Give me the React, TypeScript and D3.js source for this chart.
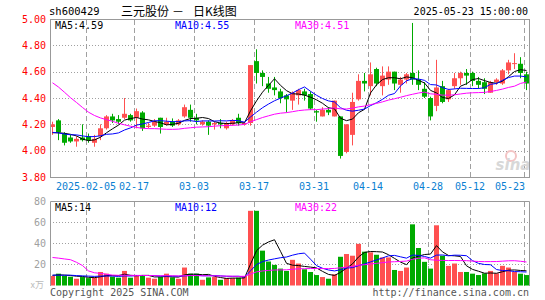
import React, { useEffect, useRef } from 'react';
import * as d3 from 'd3';

// trading days shown on the chart (2025-01-20 .. 2025-05-23)
const dates = [
  '2025-01-20', '2025-01-21', '2025-01-22', '2025-01-23', '2025-01-24', '2025-01-27',
  '2025-02-05', '2025-02-06', '2025-02-07', '2025-02-10', '2025-02-11', '2025-02-12', '2025-02-13', '2025-02-14',
  '2025-02-17', '2025-02-18', '2025-02-19', '2025-02-20', '2025-02-21', '2025-02-24', '2025-02-25', '2025-02-26',
  '2025-02-27', '2025-02-28',
  '2025-03-03', '2025-03-04', '2025-03-05', '2025-03-06', '2025-03-07', '2025-03-10', '2025-03-11', '2025-03-12',
  '2025-03-13', '2025-03-14', '2025-03-17', '2025-03-18', '2025-03-19', '2025-03-20', '2025-03-21', '2025-03-24',
  '2025-03-25', '2025-03-26', '2025-03-27', '2025-03-28', '2025-03-31',
  '2025-04-01', '2025-04-02', '2025-04-03', '2025-04-07', '2025-04-08', '2025-04-09', '2025-04-10', '2025-04-11',
  '2025-04-14', '2025-04-15', '2025-04-16', '2025-04-17', '2025-04-18', '2025-04-21', '2025-04-22', '2025-04-23',
  '2025-04-24', '2025-04-25', '2025-04-28', '2025-04-29', '2025-04-30',
  '2025-05-06', '2025-05-07', '2025-05-08', '2025-05-09', '2025-05-12', '2025-05-13', '2025-05-14', '2025-05-15',
  '2025-05-16', '2025-05-19', '2025-05-20', '2025-05-21', '2025-05-22', '2025-05-23',
];

const open = [
  4.18, 4.23, 4.13, 4.10, 4.07, 4.10, 4.11, 4.06, 4.11, 4.17,
  4.26, 4.24, 4.25, 4.27, 4.25, 4.29, 4.18, 4.19, 4.25, 4.20,
  4.22, 4.20, 4.26, 4.31, 4.25, 4.20, 4.22, 4.20, 4.21, 4.17,
  4.20, 4.25, 4.20, 4.21, 4.68, 4.59, 4.51, 4.48, 4.45, 4.42,
  4.38, 4.42, 4.45, 4.43, 4.30, 4.26, 4.31, 4.26, 4.26, 3.99,
  4.12, 4.39, 4.53, 4.49, 4.62, 4.49, 4.54, 4.60, 4.50, 4.54,
  4.59, 4.54, 4.47, 4.40, 4.34, 4.49, 4.39, 4.49, 4.55, 4.59,
  4.59, 4.53, 4.52, 4.44, 4.52, 4.51, 4.61, 4.66, 4.66, 4.58,
];
const high = [
  4.22, 4.24, 4.14, 4.12, 4.11, 4.20, 4.13, 4.12, 4.20, 4.27,
  4.28, 4.27, 4.40, 4.28, 4.32, 4.30, 4.21, 4.24, 4.25, 4.25,
  4.245, 4.24, 4.35, 4.35, 4.28, 4.23, 4.23, 4.22, 4.24, 4.22,
  4.24, 4.28, 4.22, 4.65, 4.77, 4.61, 4.56, 4.56, 4.47, 4.43,
  4.45, 4.47, 4.47, 4.45, 4.31, 4.33, 4.33, 4.38, 4.26, 4.20,
  4.44, 4.58, 4.59, 4.67, 4.63, 4.64, 4.64, 4.60, 4.56, 4.59,
  4.97, 4.61, 4.52, 4.41, 4.69, 4.53, 4.47, 4.59, 4.60, 4.62,
  4.60, 4.56, 4.55, 4.53, 4.55, 4.62, 4.69, 4.74, 4.71, 4.60,
];
const low = [
  4.12, 4.08, 4.04, 4.06, 4.03, 4.07, 4.06, 4.03, 4.08, 4.16,
  4.21, 4.20, 4.24, 4.22, 4.17, 4.15, 4.17, 4.18, 4.13, 4.19,
  4.18, 4.19, 4.25, 4.22, 4.20, 4.19, 4.12, 4.16, 4.17, 4.16,
  4.19, 4.19, 4.19, 4.19, 4.51, 4.49, 4.44, 4.42, 4.36, 4.29,
  4.31, 4.35, 4.38, 4.31, 4.22, 4.26, 4.27, 4.26, 3.94, 3.98,
  4.04, 4.38, 4.45, 4.42, 4.49, 4.42, 4.50, 4.46, 4.44, 4.51,
  4.50, 4.46, 4.40, 4.23, 4.30, 4.36, 4.37, 4.47, 4.50, 4.50,
  4.49, 4.47, 4.43, 4.44, 4.50, 4.50, 4.58, 4.62, 4.55, 4.46,
];
const close = [
  4.20, 4.14, 4.06, 4.07, 4.09, 4.08, 4.08, 4.09, 4.17, 4.26,
  4.23, 4.22, 4.28, 4.23, 4.30, 4.17, 4.19, 4.22, 4.18, 4.22,
  4.19, 4.23, 4.33, 4.25, 4.23, 4.22, 4.19, 4.21, 4.20, 4.21,
  4.23, 4.21, 4.21, 4.65, 4.59, 4.56, 4.47, 4.46, 4.40, 4.39,
  4.44, 4.46, 4.42, 4.32, 4.29, 4.31, 4.29, 4.38, 3.96, 4.20,
  4.37, 4.53, 4.51, 4.58, 4.51, 4.57, 4.60, 4.51, 4.54, 4.58,
  4.54, 4.50, 4.41, 4.26, 4.48, 4.37, 4.46, 4.55, 4.59, 4.57,
  4.53, 4.50, 4.47, 4.52, 4.54, 4.61, 4.67, 4.665, 4.59, 4.51,
];
// volume, 万手
const volume = [
  9, 11.2, 9, 8.3, 6.4, 8, 7, 7.4, 12.8, 11.2,
  8.3, 7.4, 13.8, 7.4, 9.6, 9.6, 7.4, 6.4, 8, 11.2,
  7.7, 6.4, 17, 11.2, 11.2, 5.4, 7.7, 8, 5.4, 7,
  7, 7.4, 9, 70.7, 70.7, 33, 22.7, 19.5, 16, 13.8,
  24.3, 20.8, 15.4, 12.8, 9.9, 8, 6.4, 10.6, 27.2, 29.8,
  28.2, 39.4, 32, 31.4, 29.1, 26.6, 26.6, 14.7, 13.8, 17,
  57.9, 35.5, 22.4, 16, 57, 28.2, 18.6, 20.8, 12.8, 12.8,
  11.2, 9.9, 11.5, 13.8, 11.5, 18.6, 17, 12.8, 11.2, 9.9,
];

// 29 sessions before the window, only used to seed the moving averages (estimated)
const priorClose = [
  5.12, 5.25, 5.30, 5.18, 5.22, 5.15, 4.85, 4.72, 4.66, 4.60,
  4.68, 4.62, 4.55, 4.58, 4.35, 4.28, 4.22, 4.25, 4.30, 4.20,
  4.18, 4.15, 4.12, 4.10, 4.16, 4.14, 4.08, 4.11, 4.15,
];
const priorVolume = [
  30, 32, 30, 80, 100, 160, 60, 30, 36, 32,
  14, 11, 12, 10, 11, 9, 10, 12, 10, 9,
  11, 10, 8, 10, 11, 9, 10, 10, 10,
];

const priceTicks = [5.0, 4.8, 4.6, 4.4, 4.2, 4.0, 3.8];
const volumeTicks = [80, 60, 40, 20];
const dateTicks = ['2025-02-05', '2025-02-17', '2025-03-03', '2025-03-17', '2025-03-31', '2025-04-14', '2025-04-28', '2025-05-12', '2025-05-23'];
const maPeriods = [5, 10, 30];
const maColors = ['#000000', '#0000ff', '#ff00ff'];
const priceMaLabels = ['MA5:4.59', 'MA10:4.55', 'MA30:4.51'];
const volumeMaLabels = ['MA5:14', 'MA10:12', 'MA30:22'];

const UP = '#ff5050';
const DOWN = '#00aa00';
const MONO = '"DejaVu Sans Mono", monospace';

function movingAverage(prior: number[], values: number[], n: number) {
  const all = prior.concat(values);
  const off = prior.length;
  return values.map((_, i) => d3.mean(all.slice(off + i - n + 1, off + i + 1)) as number);
}

export default function App() {
  const svgRef = useRef<SVGSVGElement>(null);

  useEffect(() => {
    if (!svgRef.current) return;
    const svg = d3.select(svgRef.current);
    svg.selectAll('*').remove();

    const left = 50, right = 529;
    const x = d3.scaleLinear().domain([0, 80]).range([50, 530]);
    const y = d3.scaleLinear().domain([3.8, 5.0]).range([177, 19]);
    const yv = d3.scaleLinear().domain([0, 80]).range([285.5, 201]);
    const idx = dates.map((_, i) => i);
    const cx = (i: number) => x(i) + 2.5;

    svg.append('rect').attr('width', 545).attr('height', 300).attr('fill', '#fff');

    // header
    svg.append('text').attr('x', 49).attr('y', 15).attr('font-family', MONO).attr('font-size', 10.5)
      .attr('fill', '#000').text('sh600429');
    const title = svg.append('text').attr('y', 15.5).attr('font-family', '"Noto Sans CJK SC", sans-serif')
      .attr('font-size', 12).attr('fill', '#000');
    title.append('tspan').attr('x', 121).text('三元股份');
    title.append('tspan').attr('x', 172).text('－');
    title.append('tspan').attr('x', 193).text('日K线图');
    svg.append('text').attr('x', 528).attr('y', 15).attr('text-anchor', 'end').attr('font-family', MONO)
      .attr('font-size', 10).attr('fill', '#000').text(dates[dates.length - 1] + ' 15:00:00');

    // grids
    const grid = svg.append('g').attr('fill', 'none').attr('stroke', '#a0a0a0').attr('stroke-width', 1);
    priceTicks.slice(1, -1).forEach(p => {
      grid.append('line').attr('x1', left).attr('x2', right).attr('y1', Math.round(y(p)) + 0.5).attr('y2', Math.round(y(p)) + 0.5)
        .attr('stroke-dasharray', '1,2');
    });
    volumeTicks.slice(1).forEach(v => {
      grid.append('line').attr('x1', left).attr('x2', right).attr('y1', Math.round(yv(v)) + 0.5).attr('y2', Math.round(yv(v)) + 0.5)
        .attr('stroke-dasharray', '1,2');
    });
    dateTicks.forEach(d => {
      const gx = Math.round(x(dates.indexOf(d))) + 0.5;
      grid.append('line').attr('x1', gx).attr('x2', gx).attr('y1', 20).attr('y2', 177).attr('stroke-dasharray', '5,3');
      grid.append('line').attr('x1', gx).attr('x2', gx).attr('y1', 202).attr('y2', 286).attr('stroke-dasharray', '5,3');
    });

    // watermark
    const wm = svg.append('g');
    wm.append('circle').attr('cx', 511).attr('cy', 156).attr('r', 5).attr('fill', 'none').attr('stroke', '#f3c4c4').attr('stroke-width', 2);
    wm.append('text').attr('x', 513).attr('y', 170).attr('text-anchor', 'middle').attr('font-family', 'Verdana, "DejaVu Sans", sans-serif')
      .attr('font-weight', 'bold').attr('font-style', 'italic').attr('font-size', 15).attr('fill', '#d8d8d8').text('sina');

    // candles
    const candles = svg.append('g');
    idx.forEach(i => {
      const up = close[i] >= open[i];
      const col = up ? UP : DOWN;
      candles.append('line').attr('x1', cx(i)).attr('x2', cx(i)).attr('y1', y(high[i])).attr('y2', y(low[i]))
        .attr('stroke', col).attr('stroke-width', 1);
      const top = y(Math.max(open[i], close[i]));
      const h = Math.max(1, y(Math.min(open[i], close[i])) - top);
      candles.append('rect').attr('x', x(i)).attr('y', top).attr('width', 5).attr('height', h).attr('fill', col);
    });

    // volume bars
    const bars = svg.append('g');
    idx.forEach(i => {
      bars.append('rect').attr('x', x(i)).attr('y', yv(volume[i])).attr('width', 5)
        .attr('height', yv(0) - yv(volume[i])).attr('fill', close[i] >= open[i] ? UP : DOWN);
    });

    // moving averages
    const line = d3.line<number>().x((_, i) => cx(i));
    maPeriods.forEach((n, k) => {
      const pm = movingAverage(priorClose, close, n);
      svg.append('path').attr('d', line.y(d => y(d))(pm)).attr('fill', 'none').attr('stroke', maColors[k]).attr('stroke-width', 1);
      const vm = movingAverage(priorVolume, volume, n);
      svg.append('path').attr('d', line.y(d => yv(d))(vm)).attr('fill', 'none').attr('stroke', maColors[k]).attr('stroke-width', 1);
    });

    // frames
    const frame = svg.append('g').attr('stroke', '#999').attr('fill', 'none');
    frame.append('rect').attr('x', left + 0.5).attr('y', 19.5).attr('width', right - left).attr('height', 158);
    frame.append('path').attr('d', `M${left + 0.5},286 V201.5 H${right + 0.5} V286`);

    // MA legends
    const legendX = [55, 175, 295];
    priceMaLabels.forEach((t, k) => {
      svg.append('text').attr('x', legendX[k]).attr('y', 28.5).attr('font-family', MONO).attr('font-size', 10)
        .attr('fill', maColors[k]).text(t);
    });
    volumeMaLabels.forEach((t, k) => {
      svg.append('text').attr('x', legendX[k]).attr('y', 210.5).attr('font-family', MONO).attr('font-size', 10)
        .attr('fill', maColors[k]).text(t);
    });

    // price axis labels
    priceTicks.forEach(p => {
      svg.append('text').attr('x', 46).attr('y', y(p) + 3.6).attr('text-anchor', 'end').attr('font-family', MONO)
        .attr('font-size', 10).attr('fill', '#ff0000').text(d3.format('.2f')(p));
    });
    volumeTicks.forEach(v => {
      svg.append('text').attr('x', 46).attr('y', yv(v) + 3.6).attr('text-anchor', 'end').attr('font-family', MONO)
        .attr('font-size', 10).attr('fill', '#a0a0a0').text(String(v));
    });
    svg.append('text').attr('x', 44).attr('y', 288).attr('text-anchor', 'end').attr('font-family', '"Noto Sans CJK SC", sans-serif')
      .attr('font-size', 9).attr('fill', '#bbb').text('x万');

    // date labels
    dateTicks.forEach((d, k) => {
      const last = k === dateTicks.length - 1;
      svg.append('text').attr('x', last ? 525 : x(dates.indexOf(d)))
        .attr('y', 189.5).attr('text-anchor', last ? 'end' : 'middle').attr('font-family', MONO)
        .attr('font-size', 10).attr('fill', '#0a7fd2').text(k === 0 ? d : d.slice(5));
    });

    // footer
    svg.append('text').attr('x', 50).attr('y', 296).attr('font-family', MONO).attr('font-size', 10)
      .attr('fill', '#555').text('Copyright 2025 SINA.COM');
    svg.append('text').attr('x', 529).attr('y', 296).attr('text-anchor', 'end').attr('font-family', MONO).attr('font-size', 10)
      .attr('fill', '#555').text('http://finance.sina.com.cn');
  }, []);

  return (
    <div style={{ position: 'absolute', left: 0, top: 0 }}>
      <svg ref={svgRef} width={545} height={300} style={{ display: 'block' }}></svg>
    </div>
  );
}
